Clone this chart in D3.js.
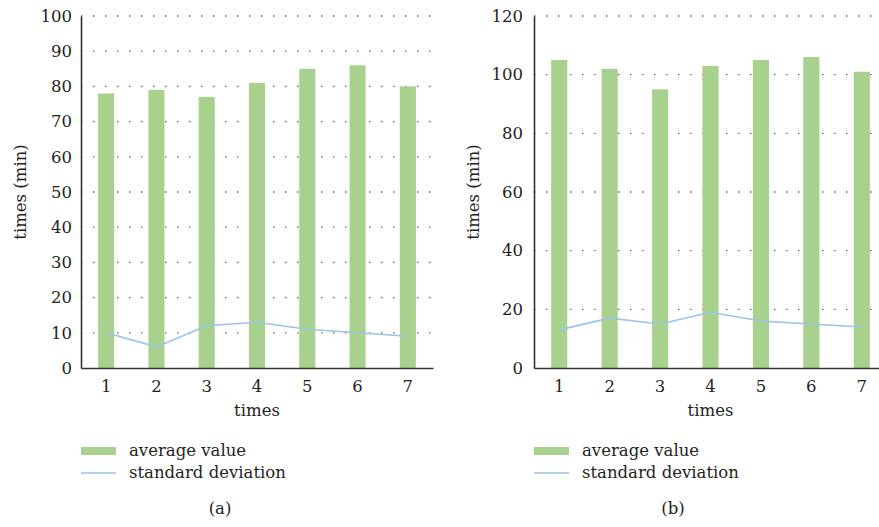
<!DOCTYPE html>
<html>
<head>
<meta charset="utf-8">
<script src="https://cdn.jsdelivr.net/npm/d3@7"></script>
<style>
  body { margin: 0; background: #fff; }
</style>
</head>
<body>
<div id="chart"></div>
<script>
// data
const times = ["1", "2", "3", "4", "5", "6", "7"];
const avgA = [78, 79, 77, 81, 85, 86, 80];
const sdA = [10, 6, 12, 13, 11, 10, 9];
const avgB = [105, 102, 95, 103, 105, 106, 101];
const sdB = [13, 17, 15, 19, 16, 15, 14];
const ticksA = [0, 10, 20, 30, 40, 50, 60, 70, 80, 90, 100];
const ticksB = [0, 20, 40, 60, 80, 100, 120];
const seriesNames = ["average value", "standard deviation"];

const W = 879, H = 527;
const barColor = "#a9d18e";
const lineColor = "#9dc3e6";
const fontSize = 16.5;
const serif = "'DejaVu Serif', serif";

const svg = d3.select("#chart")
  .append("svg")
  .attr("width", W)
  .attr("height", H);

function txt(sel) {
  return sel.style("font-family", serif)
    .style("font-size", fontSize + "px")
    .style("fill", "#231f20");
}

function drawPanel(p) {
  const x = d3.scaleBand()
    .domain(times)
    .range([p.left, p.right])
    .paddingInner(0.68)
    .paddingOuter(0.34);

  const y = d3.scaleLinear()
    .domain([0, p.max])
    .range([368, 16]);

  const g = svg.append("g");

  // dotted grid
  g.selectAll(".grid")
    .data(p.ticks.filter(t => t > 0))
    .enter()
    .append("line")
    .attr("x1", p.left)
    .attr("x2", p.right)
    .attr("y1", d => y(d))
    .attr("y2", d => y(d))
    .attr("stroke", "#666")
    .attr("stroke-width", 1.3)
    .attr("stroke-dasharray", "1.5,10.5");

  // bars
  g.selectAll(".bar")
    .data(p.avg)
    .enter()
    .append("rect")
    .attr("x", (d, i) => x(times[i]))
    .attr("y", d => y(d))
    .attr("width", x.bandwidth())
    .attr("height", d => y(0) - y(d))
    .attr("fill", barColor);

  // sd line
  g.append("path")
    .datum(p.sd)
    .attr("fill", "none")
    .attr("stroke", lineColor)
    .attr("stroke-width", 1.6)
    .attr("d", d3.line()
      .x((d, i) => x(times[i]) + x.bandwidth() / 2)
      .y(d => y(d)));

  // axes
  const yAxis = g.append("g")
    .attr("transform", "translate(" + p.left + ",0)")
    .call(d3.axisLeft(y).tickValues(p.ticks).tickSize(0).tickPadding(p.yPad));
  yAxis.select(".domain").attr("stroke", "#333").attr("stroke-width", 1.6);
  txt(yAxis.selectAll("text"));

  const xAxis = g.append("g")
    .attr("transform", "translate(0," + y(0) + ")")
    .call(d3.axisBottom(x).tickSize(0).tickPadding(12));
  xAxis.select(".domain").attr("stroke", "#333").attr("stroke-width", 1.6);
  txt(xAxis.selectAll("text"));

  // axis titles
  txt(g.append("text")
    .attr("transform", "translate(" + (p.left - 55) + "," + (y(0) + y(p.max)) / 2 + ") rotate(-90)")
    .attr("text-anchor", "middle")
    .text("times (min)"));

  txt(g.append("text")
    .attr("x", (x(times[0]) + x(times[6]) + x.bandwidth()) / 2)
    .attr("y", 416)
    .attr("text-anchor", "middle")
    .text("times"));

  // legend
  const lg = g.append("g").attr("transform", "translate(" + p.legX + ",0)");
  lg.append("rect")
    .attr("x", 0).attr("y", 447)
    .attr("width", 35).attr("height", 8)
    .attr("fill", barColor);
  lg.append("line")
    .attr("x1", 0).attr("x2", 35)
    .attr("y1", 473).attr("y2", 473)
    .attr("stroke", lineColor)
    .attr("stroke-width", 1.6);
  txt(lg.selectAll(".lt")
    .data(seriesNames)
    .enter()
    .append("text")
    .attr("x", 48)
    .attr("y", (d, i) => 456 + i * 22)
    .text(d => d));

  txt(g.append("text")
    .attr("x", p.capX)
    .attr("y", 514)
    .attr("text-anchor", "middle")
    .text(p.caption));
}

drawPanel({ left: 81, right: 433, max: 100, ticks: ticksA, avg: avgA, sd: sdA, yPad: 9, legX: 81, capX: 220, caption: "(a)" });
drawPanel({ left: 534, right: 887, max: 120, ticks: ticksB, avg: avgB, sd: sdB, yPad: 11, legX: 534, capX: 673, caption: "(b)" });
</script>
</body>
</html>
